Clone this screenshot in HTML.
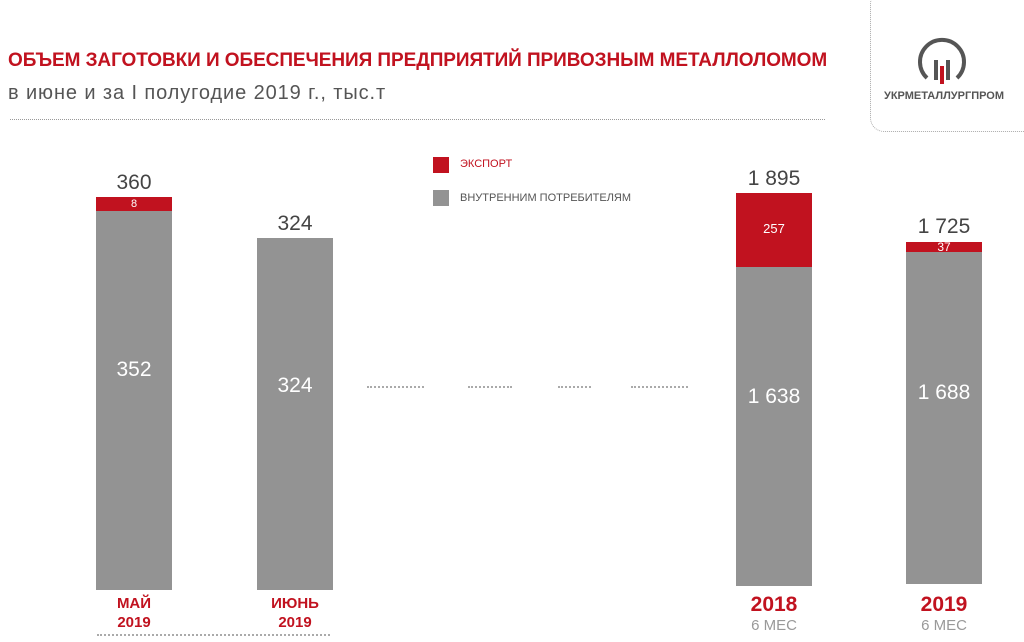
<!DOCTYPE html>
<html><head><meta charset="utf-8"><style>
body{margin:0;width:1024px;height:642px;background:#fff;position:relative;overflow:hidden;font-family:"Liberation Sans",sans-serif}
.a{position:absolute}
.bar{position:absolute;background:#939393}
.red{position:absolute;background:#c1121f}
.c{position:absolute;text-align:center}
.dot{position:absolute;border-top:2px dotted #aaa;height:0}
</style></head><body>
<div class="a" style="left:8px;top:50px;font-size:19px;font-weight:bold;color:#c1121f;letter-spacing:-0.07px">ОБЪЕМ ЗАГОТОВКИ И ОБЕСПЕЧЕНИЯ ПРЕДПРИЯТИЙ ПРИВОЗНЫМ МЕТАЛЛОЛОМОМ</div>
<div class="a" style="left:8px;top:82px;font-size:20px;color:#555;letter-spacing:0.9px">в июне и за I полугодие 2019 г., тыс.т</div>
<div class="dot" style="left:10px;top:119px;width:815px;border-top:1px dotted #999"></div>
<div class="a" style="left:870px;top:-10px;width:170px;height:140px;border:1px dotted #aaa;border-radius:14px"></div>
<svg class="a" style="left:915px;top:32px" width="54" height="54"><path d="M12 46 A22 22 0 1 1 42 46" fill="none" stroke="#555" stroke-width="4"/><rect x="19" y="28" width="4" height="20" fill="#555"/><rect x="31" y="28" width="4" height="20" fill="#555"/><rect x="25" y="34" width="4" height="18" fill="#c1121f"/></svg>
<div class="a" style="left:884px;top:90px;font-size:11px;font-weight:bold;color:#555">УКРМЕТАЛЛУРГПРОМ</div>

<div class="red" style="left:433px;top:157px;width:16px;height:16px"></div>
<div class="a" style="left:460px;top:158px;font-size:11px;color:#c1121f">ЭКСПОРТ</div>
<div class="bar" style="left:433px;top:190px;width:16px;height:16px"></div>
<div class="a" style="left:460px;top:192px;font-size:11px;color:#555">ВНУТРЕННИМ ПОТРЕБИТЕЛЯМ</div>

<div class="c" style="left:96px;top:171px;width:76px;font-size:21px;color:#444">360</div>
<div class="red" style="left:96px;top:197px;width:76px;height:14px"></div>
<div class="c" style="left:96px;top:198px;width:76px;font-size:11px;color:#fff">8</div>
<div class="bar" style="left:96px;top:211px;width:76px;height:379px"></div>
<div class="c" style="left:96px;top:358px;width:76px;font-size:21px;color:#fff">352</div>

<div class="c" style="left:257px;top:212px;width:76px;font-size:21px;color:#444">324</div>
<div class="bar" style="left:257px;top:238px;width:76px;height:352px"></div>
<div class="c" style="left:257px;top:374px;width:76px;font-size:21px;color:#fff">324</div>

<div class="c" style="left:736px;top:167px;width:76px;font-size:21px;color:#444">1 895</div>
<div class="red" style="left:736px;top:193px;width:76px;height:74px"></div>
<div class="c" style="left:736px;top:221px;width:76px;font-size:13px;color:#fff">257</div>
<div class="bar" style="left:736px;top:267px;width:76px;height:319px"></div>
<div class="c" style="left:736px;top:385px;width:76px;font-size:21px;color:#fff">1 638</div>

<div class="c" style="left:906px;top:215px;width:76px;font-size:21px;color:#444">1 725</div>
<div class="red" style="left:906px;top:242px;width:76px;height:10px"></div>
<div class="c" style="left:906px;top:240px;width:76px;font-size:12px;color:#fff">37</div>
<div class="bar" style="left:906px;top:252px;width:76px;height:332px"></div>
<div class="c" style="left:906px;top:381px;width:76px;font-size:21px;color:#fff">1 688</div>

<div class="dot" style="left:367px;top:386px;width:57px"></div>
<div class="dot" style="left:468px;top:386px;width:44px"></div>
<div class="dot" style="left:558px;top:386px;width:33px"></div>
<div class="dot" style="left:631px;top:386px;width:57px"></div>

<div class="c" style="left:84px;top:594px;width:100px;font-size:15px;font-weight:bold;color:#c1121f;line-height:19px">МАЙ<br>2019</div>
<div class="c" style="left:245px;top:594px;width:100px;font-size:15px;font-weight:bold;color:#c1121f;line-height:19px">ИЮНЬ<br>2019</div>
<div class="dot" style="left:97px;top:634px;width:233px"></div>
<div class="c" style="left:724px;top:593px;width:100px;font-size:21px;font-weight:bold;color:#c1121f">2018</div>
<div class="c" style="left:724px;top:617px;width:100px;font-size:15px;color:#999">6 МЕС</div>
<div class="c" style="left:894px;top:593px;width:100px;font-size:21px;font-weight:bold;color:#c1121f">2019</div>
<div class="c" style="left:894px;top:617px;width:100px;font-size:15px;color:#999">6 МЕС</div>
</body></html>
